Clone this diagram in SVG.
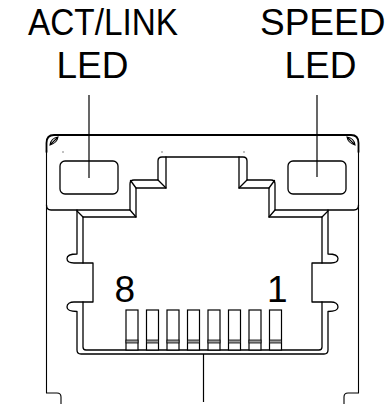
<svg xmlns="http://www.w3.org/2000/svg" width="387" height="404" viewBox="0 0 387 404">
<style>
.ln{fill:none;stroke:#000;stroke-width:1.3;stroke-linecap:round;stroke-linejoin:round}
.th{fill:none;stroke:#000;stroke-width:1.1}
.lbl{font-family:"Liberation Sans",Arial,sans-serif;font-size:37px;fill:#000}
.pin{fill:#fff;stroke:#000;stroke-width:1.2}
.band{fill:#9a9a9a;stroke:#000;stroke-width:0.8}
.lead{stroke:#000;stroke-width:1.2;fill:none}
</style>
<rect width="387" height="404" fill="#fff"/>
<g id="labels">
<text class="lbl" x="28" y="35" textLength="150" lengthAdjust="spacingAndGlyphs">ACT/LINK</text>
<text class="lbl" x="56.5" y="78">LED</text>
<text class="lbl" x="260" y="35">SPEED</text>
<text class="lbl" x="284.5" y="78">LED</text>
<text class="lbl" x="114.5" y="302">8</text>
<text class="lbl" x="267" y="302">1</text>
</g>
<g id="body">
<path class="ln" d="M46.5,152 V143 Q46.5,135 54,135 H351 Q358.5,135 358.5,143 V152" style="stroke-width:1.8"/>
<path class="th" d="M46.5,150 V393 H57 Q61,393 61,397 V404"/>
<path class="th" d="M358.5,150 V393 H348 Q344,393 344,397 V404"/>
<path class="th" d="M50,145 Q51,138 58,137 Q57,143 50,145 Z M50.5,144.5 L57.5,137.5"/>
<path class="th" d="M355,145 Q354,138 347,137 Q348,143 355,145 Z M354.5,144.5 L347.5,137.5"/>
<circle cx="63" cy="152" r="0.7" fill="#555"/>
<circle cx="162" cy="152" r="0.7" fill="#555"/>
<circle cx="244" cy="152" r="0.7" fill="#555"/>
</g>
<g id="act-link-led">
<rect class="ln" x="60" y="161" width="58" height="33" rx="5"/>
</g>
<g id="speed-led">
<rect class="ln" x="288" y="161" width="58" height="33" rx="5"/>
</g>
<g id="port">
<path class="ln" d="M46.5,205 Q46.5,210 51,210 H130 V184 Q130,180 134,180 H158 V161 Q158,157 162,157 H243 Q247,157 247,161 V180 H271 Q275,180 275,184 V210 H354 Q358.5,210 358.5,205"/>
<path class="ln" d="M83,263 V217 H136 V188 H166 V157 M239,157 V188 H269 V217 H322 V263"/>
<path class="ln" d="M77,211 L83,217 M130,210 L136,217 M130.5,180.5 L136,188 M158,180 L166,188 M328,211 L322,217 M275,210 L269,217 M274.5,180.5 L269,188 M247,180 L239,188"/>
<path class="ln" d="M77,210 V254 C71,254 67,255.5 67,258.5 C67,261.5 70,263 74,263 H93 V302 H74 C70,302 67,304 67,307 C67,310 71,311.5 77,311.5 V350 Q77,354 81,354 H324 Q328,354 328,350 V311.5 C334,311.5 338,310 338,307 C338,304 335,302 331,302 H312 V263 H331 C335,263 338,261.5 338,258.5 C338,255.5 334,254 328,254 V210"/>
<path class="ln" d="M83,302 V347 Q83,350 86,350 H319 Q322,350 322,347 V302"/>
</g>
<g id="pins">
<rect class="pin" x="126" y="310" width="12" height="40"/>
<rect class="pin" x="146.5" y="310" width="12" height="40"/>
<rect class="pin" x="167" y="310" width="12" height="40"/>
<rect class="pin" x="187.5" y="310" width="12" height="40"/>
<rect class="pin" x="208" y="310" width="12" height="40"/>
<rect class="pin" x="228.5" y="310" width="12" height="40"/>
<rect class="pin" x="249" y="310" width="12" height="40"/>
<rect class="pin" x="269.5" y="310" width="12" height="40"/>
<rect class="band" x="126" y="340" width="12" height="3"/>
<rect class="band" x="146.5" y="340" width="12" height="3"/>
<rect class="band" x="167" y="340" width="12" height="3"/>
<rect class="band" x="187.5" y="340" width="12" height="3"/>
<rect class="band" x="208" y="340" width="12" height="3"/>
<rect class="band" x="228.5" y="340" width="12" height="3"/>
<rect class="band" x="249" y="340" width="12" height="3"/>
<rect class="band" x="269.5" y="340" width="12" height="3"/>
</g>
<g id="connectors">
<line class="lead" x1="89" y1="95" x2="89" y2="178"/>
<line class="lead" x1="317" y1="95" x2="317" y2="177"/>
<line class="lead" x1="203.5" y1="354" x2="203.5" y2="402"/>
</g>
</svg>
